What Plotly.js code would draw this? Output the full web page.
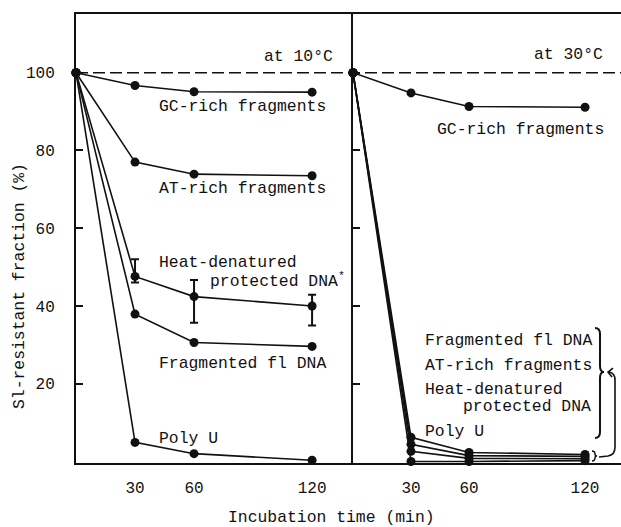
<!DOCTYPE html>
<html>
<head>
<meta charset="utf-8">
<script src="https://cdn.plot.ly/plotly-3.0.1.min.js"></script>
<style>html,body{margin:0;padding:0;background:#fff;}#chart{width:621px;height:527px;}</style>
</head>
<body>
<div id="chart"></div>
<script>
// ---- data ----
const times = [0, 30, 60, 120];
const xTickVals = [30, 60, 120];
const xTickText = ["30", "60", "120"];
const yTickVals = [20, 40, 60, 80, 100];
const yTickText = ["20", "40", "60", "80", "100"];

// 10 °C panel
const gc10 = [100, 96.7, 95.1, 95.0];
const at10 = [100, 77.0, 73.9, 73.5];
const heat10 = [100, 47.6, 42.4, 40.0];
const heat10ErrPlus = [0, 4.4, 4.3, 2.9];
const heat10ErrMinus = [0, 1.6, 6.7, 5.0];
const frag10 = [100, 37.9, 30.6, 29.6];
const polyU10 = [100, 4.9, 2.0, 0.3];

// 30 °C panel
const gc30 = [100, 94.8, 91.3, 91.1];
const frag30 = [100, 6.2, 2.3, 1.8];
const at30 = [100, 4.4, 1.5, 1.3];
const heat30 = [100, 2.6, 0.8, 0.7];
const polyU30 = [100, 0, 0, 0.2];

// ---- styling ----
const FONT = "Nimbus Mono PS, Courier New, Courier, FreeMono, Liberation Mono, monospace";
const INK = "#111";

function series(y, xa, ya, extra) {
  const t = {
    x: times, y: y, xaxis: xa, yaxis: ya,
    type: "scatter", mode: "lines+markers",
    line: {color: INK, width: 1.6},
    marker: {color: INK, size: 9},
    cliponaxis: false, showlegend: false, hoverinfo: "skip"
  };
  return Object.assign(t, extra || {});
}

const traces = [
  series(gc10, "x", "y"),
  series(at10, "x", "y"),
  series(heat10, "x", "y", {error_y: {type: "data", symmetric: false, array: heat10ErrPlus, arrayminus: heat10ErrMinus, color: INK, thickness: 2, width: 4}}),
  series(frag10, "x", "y"),
  series(polyU10, "x", "y"),
  series(gc30, "x2", "y2"),
  series(frag30, "x2", "y2"),
  series(at30, "x2", "y2"),
  series(heat30, "x2", "y2"),
  series(polyU30, "x2", "y2")
];

// pixel -> paper helpers for decorative brace/arrow
const ML = 76, MT = 14, PW = 545, PH = 449;
function pathPx(str) {
  const toks = str.trim().split(/\s+/);
  let n = 0, out = [];
  for (const t of toks) {
    if (/^[A-Za-z]$/.test(t)) { out.push(t); n = 0; continue; }
    const v = parseFloat(t);
    out.push(n % 2 === 0 ? ((v - ML) / PW).toFixed(5) : (1 - (v - MT) / PH).toFixed(5));
    n++;
  }
  return out.join(" ");
}

const shapes = [
  {type: "line", xref: "paper", yref: "y", x0: 0, x1: 1, y0: 100, y1: 100,
   line: {color: INK, width: 1.6, dash: "12px,5px"}},
  {type: "path", xref: "paper", yref: "paper",
   path: pathPx("M 595 328 Q 600 328 600 334 L 600 366 Q 600 372 604 372 Q 600 372 600 378 L 600 432 Q 600 438 595 438"),
   line: {color: INK, width: 2}},
  {type: "path", xref: "paper", yref: "paper",
   path: pathPx("M 599 457 L 608 456 Q 615 455 615 447 L 615 380 Q 615 373 609 372"),
   line: {color: INK, width: 1.6}},
  {type: "path", xref: "paper", yref: "paper",
   path: pathPx("M 613 368 L 608 372 L 612 377"),
   line: {color: INK, width: 1.6}},
  {type: "path", xref: "paper", yref: "paper",
   path: pathPx("M 592 451 Q 595 451 595 454 Q 595 456 597 456 Q 595 456 595 458 Q 595 461 592 461"),
   line: {color: INK, width: 1.4}}
];

function ann(text, x, y, xa, ya, anchor, size) {
  return {text: text, x: x, y: y, xref: xa, yref: ya, xanchor: anchor || "left", yanchor: "middle",
          showarrow: false, font: {family: FONT, size: size || 16.4, color: INK}};
}

const annotations = [
  ann("at 10°C", 131.7, 104.2, "x", "y", "right"),
  ann("GC-rich fragments", 41, 91.3, "x", "y"),
  ann("AT-rich fragments", 41, 70.1, "x", "y"),
  ann("Heat-denatured", 41, 51.2, "x", "y"),
  ann("protected DNA<sup>*</sup>", 67, 46.8, "x", "y"),
  ann("Fragmented fl DNA", 41, 25.3, "x", "y"),
  ann("Poly U", 41, 5.8, "x", "y"),
  ann("at 30°C", 130.4, 104.6, "x2", "y2", "right"),
  ann("GC-rich fragments", 42.4, 85.4, "x2", "y2"),
  ann("Fragmented fl DNA", 36.2, 31.1, "x2", "y2"),
  ann("AT-rich fragments", 36.2, 24.8, "x2", "y2"),
  ann("Heat-denatured", 36.2, 18.6, "x2", "y2"),
  ann("protected DNA", 124.2, 14.1, "x2", "y2", "right"),
  ann("Poly U", 36.2, 7.7, "x2", "y2"),
  {text: "Incubation time (min)", xref: "paper", yref: "paper",
   x: (331 - ML) / PW, y: 1 - (517 - MT) / PH, xanchor: "center", yanchor: "middle",
   showarrow: false, font: {family: FONT, size: 16.4, color: INK}},
  {text: "Sl-resistant fraction (%)", xref: "paper", yref: "paper", textangle: -90,
   x: (19 - ML) / PW, y: 1 - (286 - MT) / PH, xanchor: "center", yanchor: "middle",
   showarrow: false, font: {family: FONT, size: 16.4, color: INK}}
];

const split = (353 - ML) / PW;

const axisCommon = {
  showgrid: false, zeroline: false, showline: true, linecolor: INK, linewidth: 2,
  tickfont: {family: FONT, size: 16, color: INK}
};

const layout = {
  width: 621, height: 527,
  margin: {l: ML, r: 0, t: MT, b: 527 - MT - PH},
  paper_bgcolor: "#fff", plot_bgcolor: "#fff",
  showlegend: false,
  xaxis: Object.assign({}, axisCommon, {
    domain: [0, split], range: [0, 140.8], anchor: "y", mirror: true,
    tickvals: xTickVals, ticktext: xTickText, ticks: "", ticklabelstandoff: 9
  }),
  xaxis2: Object.assign({}, axisCommon, {
    domain: [split, 1], range: [0, 138.6], anchor: "y2", mirror: true,
    tickvals: xTickVals, ticktext: xTickText, ticks: "", ticklabelstandoff: 9
  }),
  yaxis: Object.assign({}, axisCommon, {
    domain: [0, 1], range: [-0.4, 115.1], anchor: "x",
    tickvals: yTickVals, ticktext: yTickText, ticks: "inside", ticklen: 7, tickwidth: 2, tickcolor: INK,
    ticklabelstandoff: 16
  }),
  yaxis2: Object.assign({}, axisCommon, {
    domain: [0, 1], range: [-0.4, 115.1], anchor: "x2", matches: "y",
    tickvals: yTickVals, ticks: "inside", ticklen: 7, tickwidth: 2, tickcolor: INK,
    showticklabels: false
  }),
  shapes: shapes,
  annotations: annotations
};

Plotly.newPlot("chart", traces, layout, {displayModeBar: false, staticPlot: true});
</script>
</body>
</html>
